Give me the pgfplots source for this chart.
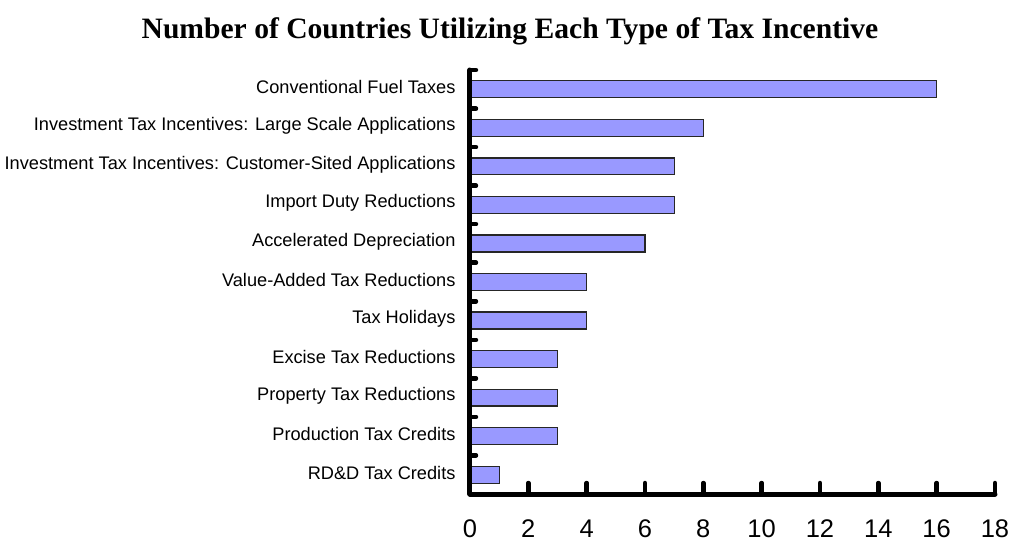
\documentclass[border=0pt]{standalone}
\usepackage{fontspec}
\setmainfont{Liberation Sans}
\newfontfamily\titlefont{Liberation Serif}
\usepackage{pgfplots}
\pgfplotsset{compat=1.18}
\definecolor{barfill}{HTML}{9999FF}
\begin{document}
\begin{tikzpicture}
\useasboundingbox (-470pt,-48pt) rectangle (540pt,494pt);
\begin{axis}[
  at={(0pt,0pt)}, anchor=south west,
  scale only axis, width=525pt, height=424pt,
  xmin=0, xmax=18, ymin=-0.5, ymax=10.5, y dir=reverse,
  xbar, bar width=0.44,
  axis on top,
  axis x line*=bottom, axis y line*=left,
  axis line style={line width=5pt, -, line cap=round},
  xtick={0,2,...,18},
  ytick={0,...,10},
  yticklabels={Conventional Fuel Taxes,Investment Tax Incentives: Large Scale Applications,Investment Tax Incentives: Customer-Sited Applications,Import Duty Reductions,Accelerated Depreciation,Value-Added Tax Reductions,Tax Holidays,Excise Tax Reductions,Property Tax Reductions,Production Tax Credits,RD\&D Tax Credits},
  minor ytick={-0.5,0.5,...,9.5},
  tick align=inside,
  major tick length=11pt, minor tick length=6pt,
  major y tick style={draw=none},
  minor y tick style={line width=4.5pt, line cap=round, black},
  x tick style={line width=4.5pt, line cap=round, black},
  /pgf/number format/assume math mode=true,
  xticklabel style={font=\fontsize{25.5}{27}\selectfont, yshift=-22pt},
  yticklabel style={font=\fontsize{18.2}{19}\selectfont, xshift=-11pt, yshift=2pt},
  clip=false,
]
\addplot[fill=barfill, draw=black!85, line width=1.3pt] coordinates {
(16,0) (8,1) (7,2) (7,3) (6,4) (4,5) (4,6) (3,7) (3,8) (3,9) (1,10)
};
\end{axis}
\node[anchor=base, font=\titlefont\bfseries\fontsize{29.6}{32}\selectfont] at (40pt,455pt) {Number of Countries Utilizing Each Type of Tax Incentive};
\end{tikzpicture}
\end{document}
